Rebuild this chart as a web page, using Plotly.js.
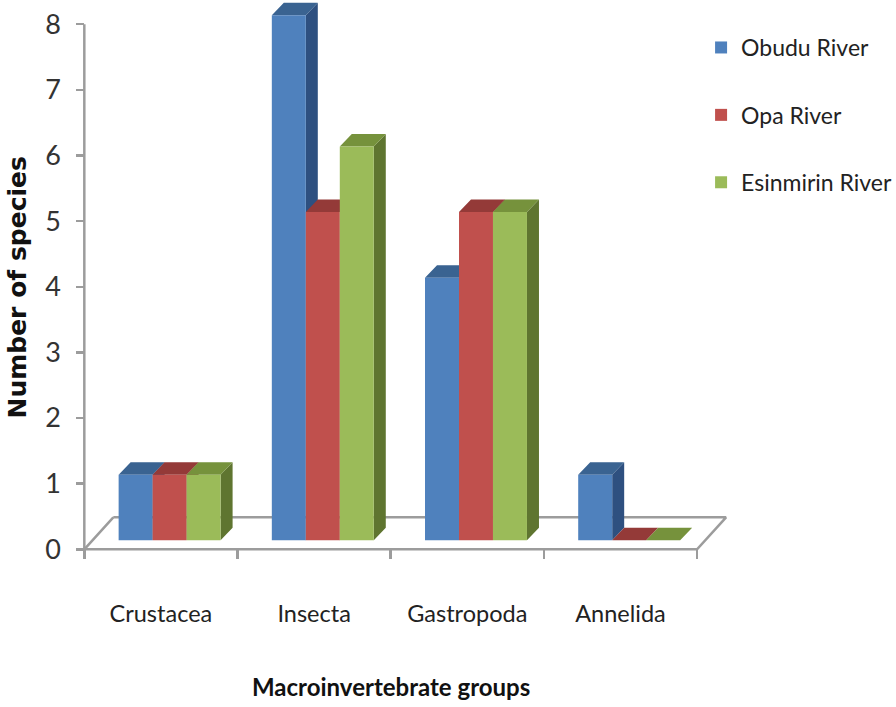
<!DOCTYPE html>
<html><head><meta charset="utf-8">
<script src="https://cdn.plot.ly/plotly-3.0.1.min.js"></script>
<style>html,body{margin:0;padding:0;background:#fff}</style></head>
<body><div id="chart" style="width:896px;height:707px"></div>
<script>
const categories = ["Crustacea", "Insecta", "Gastropoda", "Annelida"];
const seriesNames = ["Obudu River", "Opa River", "Esinmirin River"];
const obudu = [1, 8, 4, 1];
const opa = [1, 5, 5, 0];
const esinmirin = [1, 6, 5, 0];
const yTicks = [0, 1, 2, 3, 4, 5, 6, 7, 8];
const xTitle = "Macroinvertebrate groups";
const yTitle = "Number of species";
const frontColors = ["#4F81BD", "#C0504D", "#9BBB59"];
const topColors = ["#3A6391", "#943A38", "#76923C"];
const sideColors = ["#2E5080", "#772C2A", "#5F7530"];

const values = [obudu, opa, esinmirin];
const axisGrey = "#9C9C9C";
const bodyFont = "Lato, sans-serif";

// Chart scale in the picture
const W = 896, H = 707;
const catPx = 153.25, unitPx = 65.6;
const axisLeftPx = 84, axisZeroPx = 549;
// Plot area is larger than the axes so the 3D parts and the axis lines are not cut.
const padX = 0.1, padY = 0.3;
const plotL = axisLeftPx - padX * catPx, plotB = axisZeroPx + padY * unitPx;
const xRange = [-0.5 - padX, -0.5 - padX + (W - plotL) / catPx];
const yRange = [-padY, -padY + plotB / unitPx];

const shiftX = 8.7 / catPx, shiftY = 9 / unitPx;      // front faces sit inside the floor
const barW = 34 / catPx;                              // one bar, in category units
const depthX = 12 / catPx, depthY = 12.5 / unitPx;    // 3D depth of a bar
const floorX = 29 / catPx, floorY = 32 / unitPx;      // 3D depth of the floor

const traces = [];
// anchor trace for the visible category axis
traces.push({type: "scatter", mode: "none", x: categories, y: categories.map(() => 0),
  showlegend: false, hoverinfo: "skip"});

// floor outline and axis lines (drawn on the shifted layer, so undo the shift)
const L = -0.5 - shiftX, R = 3.5 - shiftX, B = -shiftY;
traces.push({type: "scatter", mode: "lines", xaxis: "x2", yaxis: "y2",
  x: [L + floorX, R + floorX, R, L, L + floorX, null, L, L],
  y: [B + floorY, B + floorY, B, B, B + floorY, null, B, 8 - shiftY],
  line: {color: axisGrey, width: 2.5}, showlegend: false, hoverinfo: "skip"});

// sides and tops, left to right so each series overlaps the one before
values.forEach((vals, s) => {
  const sx = [], sy = [], tx = [], ty = [];
  vals.forEach((v, i) => {
    const x0 = i + (s - 1.5) * barW, x1 = x0 + barW;
    sx.push(x1, x1 + depthX, x1 + depthX, x1, x1, null);
    sy.push(0, depthY, v + depthY, v, 0, null);
    tx.push(x0, x1, x1 + depthX, x0 + depthX, x0, null);
    ty.push(v, v, v + depthY, v + depthY, v, null);
  });
  traces.push({type: "scatter", mode: "lines", xaxis: "x2", yaxis: "y2",
    x: sx, y: sy, fill: "toself", fillcolor: sideColors[s], line: {width: 0},
    showlegend: false, hoverinfo: "skip"});
  traces.push({type: "scatter", mode: "lines", xaxis: "x2", yaxis: "y2",
    x: tx, y: ty, fill: "toself", fillcolor: topColors[s], line: {width: 0},
    showlegend: false, hoverinfo: "skip"});
});

// front faces: the real bars
values.forEach((vals, s) => {
  traces.push({type: "bar", name: seriesNames[s], x: categories, y: vals,
    xaxis: "x3", yaxis: "y3", legendgroup: seriesNames[s],
    marker: {color: frontColors[s], line: {width: 0}}});
});

const hidden = {visible: false, showgrid: false, zeroline: false, fixedrange: true};
const shiftedX = [xRange[0] - shiftX, xRange[1] - shiftX];
const shiftedY = [yRange[0] - shiftY, yRange[1] - shiftY];
const layout = {
  width: W, height: H,
  paper_bgcolor: "#fff", plot_bgcolor: "rgba(0,0,0,0)",
  margin: {l: plotL, r: 0, t: 0, b: H - plotB, pad: 0, autoexpand: false},
  barmode: "group", bargap: 1 - 3 * barW, bargroupgap: 0,
  font: {family: bodyFont, color: "#222"},
  xaxis: {
    type: "category", categoryorder: "array", categoryarray: categories,
    range: xRange, tickson: "boundaries", ticks: "outside", ticklen: 9, tickangle: 0,
    anchor: "free", position: padY * unitPx / plotB,
    tickwidth: 2.5, tickcolor: axisGrey, showline: false,
    showgrid: false, zeroline: false, fixedrange: true,
    tickfont: {family: bodyFont, size: 23.5, color: "#222"},
    ticklabelstandoff: 48
  },
  yaxis: {
    range: yRange, tickmode: "array", tickvals: yTicks, ticks: "outside", ticklen: 8,
    anchor: "free", position: padX * catPx / (W - plotL),
    tickwidth: 2.5, tickcolor: axisGrey, showline: false,
    showgrid: false, zeroline: false, fixedrange: true,
    tickfont: {family: bodyFont, size: 27, color: "#333"},
    ticklabelstandoff: 10
  },
  annotations: [
    {text: xTitle, xref: "paper", yref: "paper", showarrow: false, xanchor: "center", yanchor: "middle",
      x: (391 - plotL) / (W - plotL), y: 1 - 686 / plotB,
      font: {family: bodyFont, size: 24, color: "#111", weight: "bold"}},
    {text: yTitle, xref: "paper", yref: "paper", showarrow: false, xanchor: "center", yanchor: "middle",
      textangle: -90, x: (17 - plotL) / (W - plotL), y: 1 - 287 / plotB,
      font: {family: "'DejaVu Sans',sans-serif", size: 25, color: "#111", weight: "bold"}}
  ],
  xaxis2: Object.assign({overlaying: "x", anchor: "y2", type: "linear", range: shiftedX}, hidden),
  yaxis2: Object.assign({overlaying: "y", anchor: "x2", range: shiftedY}, hidden),
  xaxis3: Object.assign({overlaying: "x", anchor: "y3", type: "category", categoryorder: "array",
    categoryarray: categories, range: shiftedX}, hidden),
  yaxis3: Object.assign({overlaying: "y", anchor: "x3", range: shiftedY}, hidden),
  showlegend: true,
  legend: {x: (701 - plotL) / (W - plotL), xanchor: "left", y: 1 - 26 / plotB, yanchor: "top",
    bgcolor: "rgba(0,0,0,0)", font: {family: bodyFont, size: 23, color: "#222"},
    tracegroupgap: 34.5, itemclick: false, itemdoubleclick: false}
};
Plotly.newPlot("chart", traces, layout, {displayModeBar: false, staticPlot: true});
</script></body></html>
